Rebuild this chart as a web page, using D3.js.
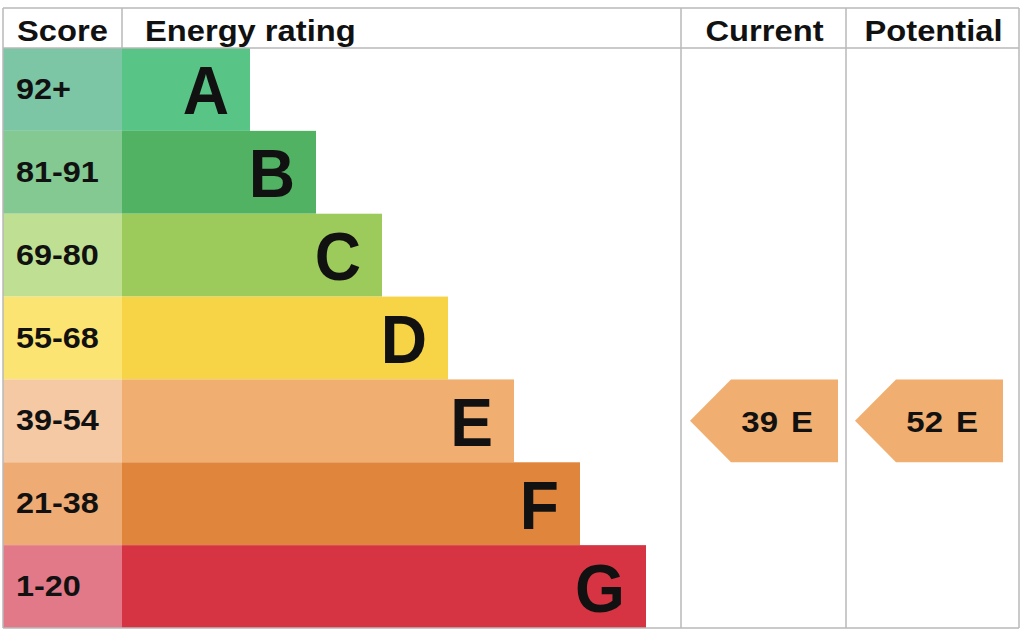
<!DOCTYPE html>
<html>
<head>
<meta charset="utf-8">
<script src="https://cdn.jsdelivr.net/npm/d3@7"></script>
<style>
  html, body { margin: 0; padding: 0; background: #fff; }
  #chart { width: 1024px; height: 632px; }
</style>
</head>
<body>
<div id="chart"></div>
<script>
// bands and their score ranges, top to bottom
const bands = ['A', 'B', 'C', 'D', 'E', 'F', 'G']
const scoreRanges = ['92+', '81-91', '69-80', '55-68', '39-54', '21-38', '1-20']
// relative bar lengths (A shortest, G longest)
const barUnits = [2, 3, 4, 5, 6, 7, 8]
const barColors = ['#58c485', '#52b263', '#9dcb5b', '#f6d446', '#f0ae70', '#e0853c', '#d63443']
const scoreColors = ['#7dc6a5', '#84c892', '#bfe093', '#fbe472', '#f5c9a3', '#eeab74', '#e17989']

// current / potential ratings
const columns = ['Current', 'Potential']
const ratings = [39, 52]
const ratingBands = ['E', 'E']

const options = {
  width: 1024,
  height: 632,
  top: 8,
  headerBottom: 48,
  bottom: 628,
  left: 3,
  scoreRight: 122,
  columnEdges: [681, 846, 1019],
  gridColor: '#b8b8b8',
  font: '"Liberation Sans", Arial, Helvetica, sans-serif'
}

const svg = d3.select('#chart')
  .append('svg')
  .attr('width', options.width)
  .attr('height', options.height)

const yScale = d3.scaleBand()
  .domain(bands)
  .range([options.headerBottom, options.bottom])

const xScale = d3.scaleLinear()
  .domain([0, 8])
  .range([118, 646])

const colorOf = d3.scaleOrdinal().domain(bands).range(barColors)
const scoreColorOf = d3.scaleOrdinal().domain(bands).range(scoreColors)
const rangeOf = d3.scaleOrdinal().domain(bands).range(scoreRanges)
const unitsOf = d3.scaleOrdinal().domain(bands).range(barUnits)

const createBars = () => {
  const g = svg.append('g').attr('class', 'gBars')
  const rows = g.selectAll('g.row')
    .data(bands)
    .enter()
    .append('g')
    .attr('class', 'row')

  // score cells
  rows.append('rect')
    .attr('x', options.left)
    .attr('y', d => yScale(d))
    .attr('width', options.scoreRight - options.left)
    .attr('height', yScale.bandwidth())
    .style('fill', d => scoreColorOf(d))

  // rating bars
  rows.append('rect')
    .attr('x', options.scoreRight)
    .attr('y', d => yScale(d))
    .attr('width', d => xScale(unitsOf(d)) - options.scoreRight)
    .attr('height', yScale.bandwidth())
    .style('fill', d => colorOf(d))

  // score range labels
  rows.append('text')
    .attr('transform', d => `translate(16, ${yScale(d) + yScale.bandwidth() / 2 + 9.5}) scale(1.08, 1)`)
    .text(d => rangeOf(d))
    .attr('font-family', options.font)
    .attr('font-weight', 'bold')
    .attr('font-size', 30)
    .style('fill', '#111')

  // band letters
  rows.append('text')
    .attr('transform', d => `translate(${xScale(unitsOf(d)) - 21}, ${yScale(d) + yScale.bandwidth() / 2 + 25}) scale(0.93, 1)`)
    .attr('text-anchor', 'end')
    .text(d => d)
    .attr('font-family', options.font)
    .attr('font-weight', 'bold')
    .attr('font-size', 69)
    .style('fill', '#111')
}

const createArrows = () => {
  const g = svg.append('g').attr('class', 'gArrows')
  const data = columns.map((c, i) => ({ column: c, value: ratings[i], band: ratingBands[i], x0: options.columnEdges[i] }))

  const arrows = g.selectAll('g.arrow')
    .data(data)
    .enter()
    .append('g')
    .attr('class', 'arrow')

  arrows.append('path')
    .attr('d', d => {
      const top = yScale(d.band)
      const h = yScale.bandwidth()
      const tip = d.x0 + 9
      const body = tip + 41
      const right = d.x0 + 157
      return `M${tip},${top + h / 2}L${body},${top}L${right},${top}L${right},${top + h}L${body},${top + h}Z`
    })
    .style('fill', d => colorOf(d.band))

  arrows.append('text')
    .attr('transform', d => `translate(${d.x0 + 157 - 60}, ${yScale(d.band) + yScale.bandwidth() / 2 + 11}) scale(1.1, 1)`)
    .attr('text-anchor', 'end')
    .text(d => d.value)
    .attr('font-family', options.font)
    .attr('font-weight', 'bold')
    .attr('font-size', 30)
    .style('fill', '#111')

  arrows.append('text')
    .attr('transform', d => `translate(${d.x0 + 157 - 25}, ${yScale(d.band) + yScale.bandwidth() / 2 + 11}) scale(1.1, 1)`)
    .attr('text-anchor', 'end')
    .text(d => d.band)
    .attr('font-family', options.font)
    .attr('font-weight', 'bold')
    .attr('font-size', 30)
    .style('fill', '#111')
}

const createGrid = () => {
  const { left, top, headerBottom, bottom, scoreRight, columnEdges, gridColor } = options
  const right = columnEdges[columnEdges.length - 1]
  const g = svg.append('g').attr('class', 'gGrid')
    .attr('stroke', gridColor)
    .attr('stroke-width', 1.5)

  const hLines = [top, headerBottom, bottom]
  g.selectAll('line.h')
    .data(hLines)
    .enter()
    .append('line')
    .attr('class', 'h')
    .attr('x1', left).attr('x2', right)
    .attr('y1', d => d).attr('y2', d => d)

  const vLines = [left].concat(columnEdges)
  g.selectAll('line.v')
    .data(vLines)
    .enter()
    .append('line')
    .attr('class', 'v')
    .attr('x1', d => d).attr('x2', d => d)
    .attr('y1', top).attr('y2', bottom)

  // divider between Score and Energy rating headers only
  g.append('line')
    .attr('x1', scoreRight).attr('x2', scoreRight)
    .attr('y1', top).attr('y2', headerBottom)
}

const createHeader = () => {
  const { columnEdges, font } = options
  const g = svg.append('g').attr('class', 'gHeader')
  const headers = [
    { text: 'Score', x: 17, anchor: 'start' },
    { text: 'Energy rating', x: 145, anchor: 'start' }
  ].concat(columns.map((c, i) => ({
    text: c,
    x: (columnEdges[i] + columnEdges[i + 1]) / 2 + 1,
    anchor: 'middle'
  })))

  g.selectAll('text')
    .data(headers)
    .enter()
    .append('text')
    .attr('transform', d => `translate(${d.x}, 41) scale(1.09, 1)`)
    .attr('text-anchor', d => d.anchor)
    .text(d => d.text)
    .attr('font-family', font)
    .attr('font-weight', 'bold')
    .attr('font-size', 30)
    .style('fill', '#111')
}

createBars()
createArrows()
createGrid()
createHeader()
</script>
</body>
</html>
